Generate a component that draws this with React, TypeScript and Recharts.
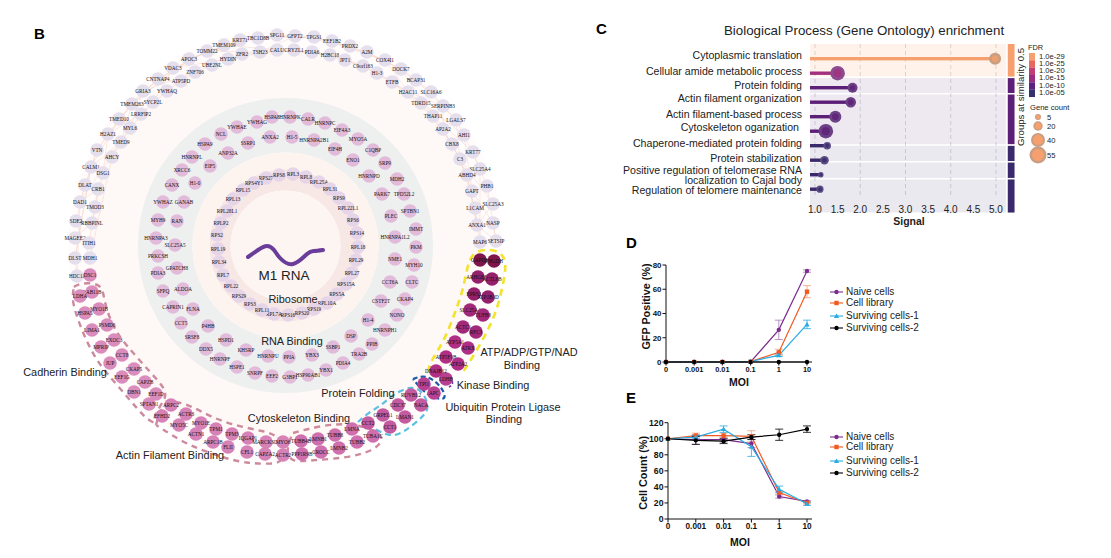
import {
  Bar,
  Cell,
  ComposedChart,
  ErrorBar,
  Line,
  LineChart,
  Pie,
  PieChart,
  ReferenceArea,
  CartesianGrid,
  Scatter,
  XAxis,
  YAxis,
} from "recharts";

const SANS = "'Liberation Sans', Arial, sans-serif";
const SERIF = "'Liberation Serif', 'Times New Roman', serif";

// ---- panel B: protein network, nodes as [name, x, y]
type NodeRow = [string, number, number];

const outerNodes: NodeRow[] = [
  ["KRT71", 240, 40], ["TBC1D8B", 258, 38], ["SPG11", 277, 35], ["TMEM109", 224, 45], ["ZFR2", 242, 54],
  ["TSH23", 260, 52], ["CALU", 277, 50], ["TOMM22", 207, 51], ["HYDIN", 228, 59], ["APOC3", 189, 59],
  ["UBE2NL", 212, 65], ["VDAC3", 173, 68], ["ZNF706", 195, 72], ["CNTNAP4", 158, 79], ["ATP5PD", 181, 81],
  ["GRIA3", 143, 91], ["YWHAQ", 167, 91], ["TMEM263", 132, 104], ["SYCP2L", 153, 102], ["TMED10", 119, 119],
  ["LRRFIP2", 141, 114], ["MYL6", 130, 128], ["H2AZ1", 108, 134], ["TMED9", 121, 142], ["VTN", 97, 150],
  ["AHCY", 112, 157], ["CALM1", 91, 167], ["DSG1", 103, 173], ["DLAT", 85, 185], ["CRB1", 98, 189],
  ["DAD1", 80, 202], ["TMOD3", 95, 207], ["SDE2", 76, 221], ["RBBPINL", 92, 223], ["MAGEE2", 75, 238],
  ["ITIH1", 89, 243], ["DLST", 75, 258], ["MDH1", 90, 258], ["HDC11", 77, 276], ["GFPT2", 295, 36],
  ["CRYZL1", 294, 50], ["TPGS1", 314, 37], ["PDIA6", 312, 52], ["EEF1B2", 332, 41], ["H2BC18", 330, 55],
  ["PRDX2", 350, 46], ["JPT1", 345, 60], ["A2M", 367, 52], ["C9orf163", 363, 66], ["COX4I1", 385, 60],
  ["H1-3", 377, 73], ["DOCK7", 401, 69], ["ETFB", 392, 82], ["BCAP31", 416, 80], ["H2AC11", 408, 92],
  ["SLC16A6", 431, 92], ["TDRD15", 421, 103], ["SERPINB3", 443, 106], ["THAP11", 433, 116], ["LGALS7", 456, 120],
  ["AP2A2", 443, 129], ["AHI1", 464, 135], ["CBX8", 452, 144], ["KRT77", 473, 152], ["C3", 460, 159],
  ["SLC25A4", 480, 169], ["ABHD4", 467, 175], ["PHB1", 487, 186], ["GAPT", 472, 191], ["L1CAM", 475, 208],
  ["SLC25A3", 493, 204], ["ANXA1", 477, 225], ["NASP", 493, 223], ["MAP6", 480, 242], ["SETSIP", 496, 241],
];

const rnaBindingNodes: NodeRow[] = [
  ["HSPA8", 272, 117], ["HNRNPK", 290, 117], ["YWHAG", 257, 122], ["YWHAE", 237, 127], ["NCL", 221, 134],
  ["SSRP1", 248, 143], ["ANXA2", 270, 137], ["H1-5", 292, 137], ["HSPA9", 205, 144], ["ANP32A", 228, 153],
  ["HNRNPL", 192, 157], ["EIF5", 210, 166], ["XRCC6", 182, 170], ["H1-0", 195, 183], ["CANX", 172, 185],
  ["YWHAZ", 163, 202], ["GANAB", 184, 202], ["MYH9", 158, 220], ["RAN", 177, 221], ["HNRNPA3", 156, 238],
  ["SLC25A5", 175, 245], ["PRKCSH", 158, 256], ["GPATCH8", 177, 268], ["PDIA3", 158, 273], ["SFPQ", 163, 291],
  ["ALDOA", 183, 289], ["CAPRIN1", 173, 307], ["FLNA", 193, 309], ["CCT5", 181, 323], ["P4HB", 208, 326],
  ["SRSF8", 192, 337], ["HSPD1", 226, 340], ["DDX5", 206, 349], ["KHSRP", 246, 350], ["HNRNPF", 220, 359],
  ["HNRNPU", 268, 356], ["PPIA", 289, 357], ["HSPE1", 237, 367], ["SNRPF", 255, 373], ["EEF2", 272, 376],
  ["G3BP1", 290, 377], ["HSP90AB1", 308, 375], ["YBX1", 326, 370], ["YBX3", 312, 355], ["PDIA4", 343, 363],
  ["SSBP1", 333, 347], ["TRA2B", 359, 354], ["DSP", 351, 336], ["PPIB", 372, 344], ["HNRNPH1", 385, 330],
  ["H1-4", 368, 320], ["NONO", 397, 315], ["CSTF2T", 381, 301], ["CKAP4", 405, 299], ["CCT6A", 390, 282],
  ["CLTC", 412, 282], ["NME1", 395, 259], ["MYH10", 414, 265], ["PKM", 416, 247], ["HNRNPA1L2", 395, 237],
  ["IMMT", 416, 229], ["PLEC", 391, 216], ["SPTBN1", 410, 211], ["PARK7", 382, 194], ["TPD52L2", 404, 194],
  ["MDH2", 397, 179], ["HNRNPD", 369, 176], ["SRP9", 385, 163], ["ENO1", 353, 160], ["C1QBP", 373, 150],
  ["EIF4H", 335, 149], ["MYO5A", 358, 139], ["HNRNPA2B1", 314, 140], ["EIF4A3", 342, 130], ["HNRNPC", 325, 123],
  ["CALR", 308, 119],
];

const ribosomeNodes: NodeRow[] = [
  ["RPS27", 266, 178], ["RPS8", 279, 175], ["RPL3", 293, 174], ["RPL8", 306, 177], ["RPL25A", 319, 182],
  ["RPL31", 330, 189], ["RPS9", 339, 198], ["RPL22L1", 348, 208], ["RPS6", 353, 220], ["RPS14", 357, 233],
  ["RPL18", 358, 247], ["RPL29", 356, 260], ["RPL27", 352, 273], ["RPS15A", 346, 284], ["RPS5A", 337, 294],
  ["RPL10A", 327, 303], ["RPS19", 314, 309], ["RPS20", 302, 313], ["RPS16", 288, 315], ["RPL7A", 274, 314],
  ["RPL11", 262, 310], ["RPS3", 250, 304], ["RPS29", 239, 296], ["RPL22", 231, 286], ["RPL7", 223, 275],
  ["RPL34", 219, 262], ["RPL19", 218, 249], ["RPS2", 217, 235], ["RPLP2", 221, 223], ["RPL28L1", 227, 211],
  ["RPL13", 233, 199], ["RPL15", 243, 190], ["RPS4Y1", 254, 183],
];

const cadherinNodes: NodeRow[] = [
  ["DSC1", 90, 275], ["RAB11B", 92, 292], ["LDHA", 80, 296], ["MYO1B", 99, 309], ["HSPA5", 85, 313],
  ["PSMD6", 107, 325], ["LIMA1", 92, 330], ["EXOC3", 114, 340], ["MPRIP", 101, 347], ["CCT8", 122, 355],
  ["JUP", 110, 363], ["CKAP5", 134, 369], ["EEF1G", 122, 377], ["CAPZB", 145, 382], ["DBN1", 134, 392],
  ["EEF1D", 156, 394], ["SPTAN1", 149, 404],
];

const actinNodes: NodeRow[] = [
  ["ARPC2", 171, 405], ["EFHD2", 162, 416], ["ACTR3", 186, 414], ["MYO5C", 179, 425], ["MYO1E", 201, 423],
  ["ACTN1", 196, 434], ["TPM1", 216, 429], ["ARPC1B", 213, 442], ["TPM3", 232, 434], ["FLII", 228, 447],
  ["IQGAP1", 248, 438], ["CFL1", 247, 452], ["MARCKSL1", 266, 442], ["CAPZA2", 265, 454], ["MYO6", 283, 442],
  ["ACTR2", 283, 455],
];

const cytoskeletonNodes: NodeRow[] = [
  ["TUBB4B", 301, 441], ["PPP1R9B", 302, 454], ["LMNB1", 318, 439], ["CROCC", 321, 452], ["TUBB8", 335, 435],
  ["LMNB2", 339, 448], ["LMNA", 352, 429], ["TUBB2", 357, 442], ["TUBA1C", 373, 436],
];

const foldingNodes: NodeRow[] = [
  ["CCT2", 368, 423], ["CCT1", 390, 427], ["GRPEL1", 383, 415], ["LMAN1", 405, 417], ["CDC37", 398, 405],
  ["NACA", 421, 405], ["RUVBL2", 411, 395],
];

const kinaseNodes: NodeRow[] = [["TPI1", 424, 384], ["APC", 434, 393], ["LDHB", 446, 379]];

const atpLowNodes: NodeRow[] = [
  ["DNAJB12", 436, 371], ["ATP5F1B", 446, 357], ["ATP2A2", 458, 364], ["ATP5A1", 455, 342], ["ATRX", 468, 348],
];

const atpMidNodes: NodeRow[] = [
  ["ACTC1", 463, 327], ["RFC3", 476, 332], ["SLC25A4", 470, 310], ["TUFB8", 483, 315],
];

const atpHighNodes: NodeRow[] = [
  ["EPRS1", 474, 294], ["ATP1B1D", 488, 297], ["ARHGEF1", 478, 277], ["ACTL6B", 492, 279],
];

const atpTopNodes: NodeRow[] = [["GAPDH", 480, 260], ["PHGDH", 494, 261]];

const webPath = [
  "DLST", "CALM1", "TMED9", "TMEM263", "CNTNAP4", "TOMM22", "TSH23", "GFPT2", "EEF1B2", "COX4I1", "BCAP31",
  "LGALS7", "AHI1", "GAPT", "NASP", "SETSIP", "PHB1", "KRT77", "THAP11", "DOCK7", "A2M", "TPGS1", "SPG11",
  "KRT71", "APOC3", "GRIA3", "TMED10", "VTN", "DLAT", "SDE2", "MDH1", "AHCY", "MYL6", "SYCP2L", "VDAC3", "HYDIN",
  "CALU", "PDIA6", "JPT1", "H1-3", "H2AC11", "SERPINB3", "AP2A2", "C3", "SLC25A3", "ANXA1", "ABHD4", "CBX8",
  "TDRD15", "ETFB", "C9orf163", "H2BC18", "CRYZL1", "ZFR2", "UBE2NL", "ZNF706", "ATP5PD", "YWHAQ", "LRRFIP2",
  "H2AZ1", "DSG1", "TMOD3", "ITIH1", "MAGEE2", "RBBPINL", "CRB1", "DAD1", "VTN", "TMEM263", "APOC3", "KRT71",
  "GFPT2", "PRDX2", "DOCK7", "SLC16A6", "LGALS7", "C3", "L1CAM", "MAP6", "SLC25A4", "AHI1", "H2AC11", "COX4I1",
  "TPGS1", "TBC1D8B", "TOMM22", "CNTNAP4", "TMED10", "CALM1", "DLST", "HDC11", "DAD1", "MYL6", "GRIA3", "ZNF706",
  "TMEM109", "CALU", "H2BC18", "C9orf163", "ETFB", "THAP11", "CBX8", "ABHD4", "ANXA1", "SETSIP",
];

const rnaWave = [
  { x: 248, y: 257 }, { x: 258, y: 250 }, { x: 267, y: 246 }, { x: 274, y: 250 }, { x: 280, y: 258 },
  { x: 293, y: 264 }, { x: 307, y: 254 }, { x: 314, y: 251 }, { x: 323, y: 250 },
];

const cadherinOutline = [
  [74, 287], [80, 283], [102, 283], [104, 300], [110, 320], [120, 338], [135, 355], [150, 372], [163, 386], [168, 397],
  [152, 416], [157, 425], [145, 418], [130, 400], [110, 377], [92, 355], [75, 313], [72, 297], [74, 287],
].map(([x, y]) => ({ x, y }));

const actinOutline = [
  [156, 425], [163, 400], [187, 403], [210, 417], [237, 426], [263, 431], [281, 436], [287, 463], [265, 464],
  [247, 463], [227, 459], [190, 446], [170, 434], [156, 425],
].map(([x, y]) => ({ x, y }));

const cytoskeletonOutline = [
  [293, 433], [323, 425], [353, 423], [380, 432], [383, 441], [373, 451], [347, 458], [313, 460], [290, 463],
  [286, 448], [293, 433],
].map(([x, y]) => ({ x, y }));

const atpOutline = [
  [428, 372], [430, 362], [445, 340], [457, 307], [463, 290], [467, 268], [472, 253], [485, 249], [500, 251],
  [507, 262], [503, 285], [497, 310], [488, 330], [476, 352], [463, 372],
].map(([x, y]) => ({ x, y }));

const ligaseOutline = [
  [358, 422], [368, 413], [382, 405], [392, 395], [410, 386], [422, 390], [430, 407], [423, 417], [403, 433],
  [390, 437], [373, 428],
].map(([x, y]) => ({ x, y }));

const kinaseOutline = [
  [413, 379], [425, 375], [437, 382], [445, 393], [445, 400], [433, 398], [422, 390], [413, 379],
].map(([x, y]) => ({ x, y }));

const kinaseArc = [[440, 373], [450, 376], [454, 384], [449, 387]].map(([x, y]) => ({ x, y }));

const networkNotes: [string, number, number][] = [
  ["Cadherin Binding", 65, 376],
  ["Actin Filament Binding", 170, 459],
  ["Cytoskeleton Binding", 299, 422],
  ["Protein Folding", 358, 397],
  ["ATP/ADP/GTP/NAD", 529, 356],
  ["Binding", 522, 369],
  ["Kinase Binding", 493, 389],
  ["Ubiquitin Protein Ligase", 503, 411],
  ["Binding", 504, 423],
  ["RNA Binding", 292, 345],
  ["Ribosome", 293, 303],
];

const discValue = [{ value: 1 }];

// ---- panel C: GO enrichment
const goTerms = [
  "Cytoplasmic translation",
  "Cellular amide metabolic process",
  "Protein folding",
  "Actin filament organization",
  "Actin filament-based process",
  "Cytoskeleton oganization",
  "Chaperone-mediated protein folding",
  "Protein stabilization",
  "Positive regulation of telomerase RNA|localization to Cajal body",
  "Regulation of telomere maintenance",
];
const goSignal = [4.98, 1.5, 1.83, 1.79, 1.45, 1.24, 1.27, 1.21, 1.13, 1.11];
const goGeneCount = [25, 38, 17, 19, 25, 38, 9, 12, 4, 8];
const goColors = ["#f5a06e", "#a3307f", "#5c1f77", "#5c1f77", "#5c1f77", "#5c1f77", "#3a2a6b", "#3a2a6b", "#3a2a6b", "#3a2a6b"];
const goHalos = ["#c99e82", "#8d4a8e", "#6b4085", "#6b4085", "#6b4085", "#6b4085", "#5b4e84", "#5b4e84", "#5b4e84", "#5b4e84"];
const signalTicks = [1, 1.5, 2, 2.5, 3, 3.5, 4, 4.5, 5];
const fdrLabels = ["1.0e-29", "1.0e-25", "1.0e-20", "1.0e-15", "1.0e-10", "1.0e-05"];
const fdrColors = ["#f5a06e", "#e9675c", "#c13f74", "#9b2d80", "#5c2080", "#35306e"];
const geneLegend = [5, 20, 40, 55];
const similarityGroups = [
  { from: -0.48, to: 1.93, color: "#f5a06e" },
  { from: 2.02, to: 2.9, color: "#5c1f77" },
  { from: 2.99, to: 5.93, color: "#5c1f77" },
  { from: 6.03, to: 6.93, color: "#3a2a6b" },
  { from: 7.02, to: 7.93, color: "#3a2a6b" },
  { from: 8.02, to: 9.98, color: "#3a2a6b" },
];

// ---- panels D and E
const moiLabels = ["0", "0.001", "0.01", "0.1", "1", "10"];
const seriesNames = ["Naive cells", "Cell library", "Surviving cells-1", "Surviving cells-2"];
const seriesKeys = ["naive", "library", "s1", "s2"];
const seriesColors = ["#7b2d8e", "#f15a22", "#29abe2", "#000000"];
const seriesErrColors = ["#a878b8", "#f2a07c", "#29abe2", "#000000"];

const gfpNaive = [0, 0, 0, 0, 26.5, 75];
const gfpLibrary = [0, 0, 0, 0.3, 8, 58];
const gfpS1 = [0, 0, 0, 0.5, 5.5, 31];
const gfpS2 = [0, 0, 0, 0, 0, 0];
const gfpNaiveErr = [0, 0, 0, 0, 8, 1];
const gfpLibraryErr = [0, 0, 0, 0, 2.5, 5];
const gfpS1Err = [0, 0, 0, 0, 1, 3.5];
const gfpS2Err = [0, 0, 0, 0, 0, 0];

const countNaive = [100, 99, 99, 94, 28, 22];
const countLibrary = [100, 104, 104, 103, 33, 20];
const countS1 = [100, 102, 112, 90, 37, 19];
const countS2 = [100, 98, 97, 102, 105, 112];
const countNaiveErr = [0, 6, 3, 5, 2, 1];
const countLibraryErr = [0, 3, 3, 7, 2, 1];
const countS1Err = [0, 2, 4, 12, 4, 2];
const countS2Err = [0, 5, 3, 3, 7, 4];

const toPoints = (rows: NodeRow[]) => rows.map(([name, x, y]) => ({ name, x, y }));

const networkGroups: { rows: NodeRow[]; color: string }[] = [
  { rows: outerNodes, color: "#e4deed" },
  { rows: rnaBindingNodes, color: "#e1bbd9" },
  { rows: ribosomeNodes, color: "#e6d4e8" },
  { rows: cadherinNodes, color: "#da8cbc" },
  { rows: actinNodes, color: "#d782b7" },
  { rows: cytoskeletonNodes, color: "#d06fad" },
  { rows: foldingNodes, color: "#c45a9f" },
  { rows: kinaseNodes, color: "#b84092" },
  { rows: atpLowNodes, color: "#b02f84" },
  { rows: atpMidNodes, color: "#a2287a" },
  { rows: atpHighNodes, color: "#94206b" },
  { rows: atpTopNodes, color: "#7e1649" },
];

const outlineGroups = [
  { points: cadherinOutline, color: "#cc8a9c", width: 2.4, dash: "6 5" },
  { points: actinOutline, color: "#cc8a9c", width: 2.4, dash: "6 5" },
  { points: cytoskeletonOutline, color: "#cc8a9c", width: 2.4, dash: "6 5" },
  { points: atpOutline, color: "#f3e32b", width: 2.6, dash: "7 5" },
  { points: ligaseOutline, color: "#5cc0e2", width: 2.2, dash: "6 4" },
  { points: kinaseOutline, color: "#1c5ba6", width: 2.2, dash: "5 3" },
  { points: kinaseArc, color: "#6a3fa0", width: 1.6, dash: "3 2" },
];

const allOuter = new Map(outerNodes.map(([name, x, y]) => [name, { x, y }]));
const webPoints = webPath.map((name) => allOuter.get(name)!);

const noteData = networkNotes.map(([text, x, y]) => ({ text, x, y }));

function NetworkNode({ cx, cy, payload, fill }: any) {
  return (
    <g>
      <circle cx={cx} cy={cy} r={6.8} fill={fill} />
      <text x={cx} y={cy + 1.7} textAnchor="middle" fontSize={5.2} fontFamily={SERIF} fill="#111">
        {payload.name}
      </text>
    </g>
  );
}

function NoteText({ cx, cy, payload }: any) {
  return (
    <text x={cx} y={cy} textAnchor="middle" fontSize={10.9} fontFamily={SANS} fill="#222">
      {payload.text}
    </text>
  );
}

function NetworkPanel() {
  return (
    <div style={{ position: "absolute", left: 0, top: 0, width: 600, height: 558 }}>
      <div style={{ position: "absolute", left: 0, top: 0 }}>
        <PieChart width={600} height={558} margin={{ top: 0, right: 0, bottom: 0, left: 0 }}>
          <Pie data={discValue} dataKey="value" cx={285.5} cy={245.5} innerRadius={196} outerRadius={217} fill="#fffcfb" stroke="none" isAnimationActive={false} />
          <Pie data={discValue} dataKey="value" cx={285.5} cy={245.5} innerRadius={147} outerRadius={197} fill="#fef8f6" stroke="none" isAnimationActive={false} />
          <Pie data={discValue} dataKey="value" cx={285.5} cy={245.5} innerRadius={93} outerRadius={147.5} fill="#eef0f0" stroke="none" isAnimationActive={false} />
          <Pie data={discValue} dataKey="value" cx={285.5} cy={245.5} innerRadius={76} outerRadius={93} fill="#fdf4f0" stroke="none" isAnimationActive={false} />
          <Pie data={discValue} dataKey="value" cx={285.5} cy={245.5} innerRadius={55} outerRadius={76} fill="#f7e7e5" stroke="none" isAnimationActive={false} />
          <Pie data={discValue} dataKey="value" cx={285.5} cy={245.5} innerRadius={0} outerRadius={55} fill="#fdf5f2" stroke="none" isAnimationActive={false} />
        </PieChart>
      </div>
      <div style={{ position: "absolute", left: 0, top: 0 }}>
        <ComposedChart width={600} height={558} margin={{ top: 0, right: 0, bottom: 0, left: 0 }}>
          <XAxis type="number" dataKey="x" domain={[0, 600]} hide />
          <YAxis type="number" dataKey="y" domain={[0, 558]} reversed hide />
          <Line data={webPoints} dataKey="y" type="linear" dot={false} stroke="#f4d2c7" strokeWidth={0.5} isAnimationActive={false} />
          {outlineGroups.map((g, i) => (
            <Line
              key={i}
              data={g.points}
              dataKey="y"
              type="basis"
              dot={false}
              stroke={g.color}
              strokeWidth={g.width}
              strokeDasharray={g.dash}
              isAnimationActive={false}
            />
          ))}
          {networkGroups.map((g, i) => (
            <Scatter key={i} data={toPoints(g.rows)} fill={g.color} shape={NetworkNode} isAnimationActive={false} />
          ))}
          <Line data={rnaWave} dataKey="y" type="natural" dot={false} stroke="#6a3d9a" strokeWidth={4} strokeLinecap="round" isAnimationActive={false} />
          <Scatter data={noteData} shape={NoteText} isAnimationActive={false} />
        </ComposedChart>
      </div>
      <div style={{ position: "absolute", left: 284, top: 268, width: 60, marginLeft: -30, textAlign: "center", font: `13.5px ${SANS}`, color: "#222" }}>
        M1 RNA
      </div>
    </div>
  );
}

const goRows = goTerms.map((term, i) => ({
  term,
  signal: goSignal[i],
  genes: goGeneCount[i],
  color: goColors[i],
  halo: goHalos[i],
}));

const dotRadius = (genes: number) => 1.1 * Math.sqrt(genes) + 0.5;

function Lollipop({ x, y, width, height, payload }: any) {
  const r = dotRadius(payload.genes);
  const cy = y + height / 2;
  return (
    <g>
      <rect x={x} y={y} width={width} height={height} fill={payload.color} />
      <circle cx={x + width} cy={cy} r={r} fill={payload.halo} />
      <circle cx={x + width} cy={cy} r={r * 0.55} fill={payload.color} opacity={0.8} />
    </g>
  );
}

const TERM_RIGHT = 212;
const termBaseline = [1, 1.8, 1.3, 0.1, 1.3, 0.5, 1.3, 2.1, 0.2, 5.7];

function TermTick({ y, index, payload }: any) {
  const lines = String(payload.value).split("|");
  const right = index === 5 ? TERM_RIGHT - 3 : TERM_RIGHT;
  return (
    <text x={right} y={y + termBaseline[index]} textAnchor="end" fontSize={10.6} fontFamily={SANS} fill="#222">
      {lines.map((line, i) => (
        <tspan key={i} x={right} dy={i === 0 ? 0 : 9.3}>
          {line}
        </tspan>
      ))}
    </text>
  );
}

function EnrichmentPanel() {
  return (
    <div style={{ position: "absolute", left: 590, top: 44, width: 430, height: 190 }}>
      <ComposedChart layout="vertical" width={430} height={190} data={goRows} margin={{ top: 0, right: 5, bottom: 0, left: 0 }}>
        <CartesianGrid horizontal={false} verticalValues={signalTicks} stroke="#c8c8c8" strokeDasharray="4 3" strokeWidth={0.7} />
        <XAxis
          type="number"
          domain={[0.89, 5.42]}
          ticks={signalTicks}
          tickFormatter={(v: number) => v.toFixed(1)}
          tick={{ fontSize: 10, fontFamily: SANS, fill: "#222" }}
          tickLine={false}
          axisLine={false}
          height={38}
          tickMargin={4}
          allowDataOverflow
        />
        <YAxis
          yAxisId="rows"
          type="category"
          dataKey="term"
          width={220}
          interval={0}
          tick={TermTick}
          tickLine={false}
          axisLine={false}
          padding={{ top: 7, bottom: 0 }}
          tickMargin={8}
        />
        <YAxis yAxisId="bands" type="number" domain={[-0.48, 10]} hide allowDataOverflow />
        {similarityGroups.map((g, i) => (
          <ReferenceArea key={`band-${i}`} yAxisId="bands" ifOverflow="visible" x1={0.89} x2={5.22} y1={g.from} y2={g.to} fill={g.color} fillOpacity={g.color === "#f5a06e" ? 0.14 : 0.1} stroke="none" />
        ))}
        {similarityGroups.map((g, i) => (
          <ReferenceArea key={`side-${i}`} yAxisId="bands" ifOverflow="visible" x1={5.26} x2={5.41} y1={g.from} y2={g.to} fill={g.color} fillOpacity={1} stroke="none" />
        ))}
        <Bar yAxisId="rows" dataKey="signal" barSize={3.4} shape={Lollipop} isAnimationActive={false}>
          {goRows.map((row) => (
            <Cell key={row.term} fill={row.color} />
          ))}
        </Bar>
      </ComposedChart>
    </div>
  );
}

function EnrichmentLegend() {
  const sizeY = [117, 126, 140, 155];
  return (
    <svg width={1111} height={558} style={{ position: "absolute", left: 0, top: 0, pointerEvents: "none" }} fontFamily={SANS} fill="#222">
      <text x={724} y={35} fontSize={13.3}>Biological Process (Gene Ontology) enrichment</text>
      <text x={596} y={34} fontSize={15} fontWeight="bold" fill="#000">C</text>
      <text x={34} y={39} fontSize={15} fontWeight="bold" fill="#000">B</text>
      <text x={626} y={248} fontSize={15} fontWeight="bold" fill="#000">D</text>
      <text x={626} y={403} fontSize={15} fontWeight="bold" fill="#000">E</text>
      <text x={909} y={225} fontSize={10.5} fontWeight="bold" textAnchor="middle">Signal</text>
      <text transform="translate(1024,97) rotate(-90)" fontSize={9.6} textAnchor="middle">Groups at similarity 0.5</text>
      <text x={1028} y={49.5} fontSize={7.4}>FDR</text>
      {fdrColors.map((c, i) => (
        <g key={c}>
          <rect x={1029} y={53 + i * 7.33} width={6} height={7.4} fill={c} />
          <text x={1039} y={58.5 + i * 7.33} fontSize={7.6}>{fdrLabels[i]}</text>
        </g>
      ))}
      <text x={1030} y={110} fontSize={7.6}>Gene count</text>
      {geneLegend.map((g, i) => (
        <g key={g}>
          <circle cx={1038} cy={sizeY[i]} r={[3, 4.7, 7, 8.5][i]} fill="#c99e82" />
          <circle cx={1038} cy={sizeY[i]} r={[2, 3.2, 5, 6][i]} fill="#f5a06e" />
          <text x={1047} y={sizeY[i] + 3} fontSize={7.6}>{g}</text>
        </g>
      ))}
    </svg>
  );
}

const buildRows = (values: number[][], errors: number[][]) =>
  moiLabels.map((moi, i) => {
    const row: Record<string, number | string> = { moi };
    seriesKeys.forEach((key, s) => {
      row[key] = values[s][i];
      row[`${key}Err`] = errors[s][i];
    });
    return row;
  });

function SeriesMark({ cx, cy, fill, kind }: any) {
  if (kind === 1) return <rect x={cx - 2.2} y={cy - 2.2} width={4.4} height={4.4} fill={fill} />;
  if (kind === 2) return <path d={`M${cx} ${cy - 2.6}L${cx + 2.6} ${cy + 2}L${cx - 2.6} ${cy + 2}Z`} fill={fill} />;
  return <circle cx={cx} cy={cy} r={2.2} fill={fill} />;
}

interface MoiChartProps {
  top: number;
  height: number;
  marginTop: number;
  axisWidth: number;
  data: Record<string, number | string>[];
  domain: [number, number];
  ticks: number[];
  yLabel: string;
  labelOffset: number;
  labelShift: number;
  tickSize: number;
  axisHeight: number;
}

function MoiChart({ top, height, marginTop, axisWidth, data, domain, ticks, yLabel, labelOffset, labelShift, tickSize, axisHeight }: MoiChartProps) {
  return (
    <div style={{ position: "absolute", left: 620, top, width: 200, height }}>
      <LineChart width={200} height={height} data={data} margin={{ top: marginTop, right: 8, bottom: 0, left: 0 }}>
        <XAxis
          dataKey="moi"
          padding={{ left: 0, right: 5 }}
          interval={0}
          height={axisHeight}
          tick={{ fontSize: tickSize, fontWeight: "bold", fontFamily: SANS, fill: "#111" }}
          tickSize={3.5}
          tickMargin={1}
          stroke="#111"
          label={{ value: "MOI", position: "insideBottom", offset: 6, fontSize: 10.5, fontWeight: "bold", fontFamily: SANS, fill: "#111" }}
        />
        <YAxis
          width={axisWidth}
          domain={domain}
          ticks={ticks}
          interval={0}
          tick={{ fontSize: tickSize + 0.5, fontWeight: "bold", fontFamily: SANS, fill: "#111" }}
          tickSize={3.5}
          tickMargin={1}
          stroke="#111"
          label={{ value: yLabel, angle: -90, position: "insideLeft", offset: labelOffset, dy: labelShift, fontSize: 10.8, fontWeight: "bold", fontFamily: SANS, fill: "#111", style: { textAnchor: "middle" } }}
        />
        {seriesKeys.map((key, s) => (
          <Line
            key={key}
            dataKey={key}
            stroke={seriesColors[s]}
            strokeWidth={1.2}
            type="linear"
            isAnimationActive={false}
            dot={(props: any) => <SeriesMark key={props.index} cx={props.cx} cy={props.cy} fill={seriesColors[s]} kind={s} />}
          >
            <ErrorBar dataKey={`${key}Err`} width={4} strokeWidth={0.8} stroke={seriesErrColors[s]} direction="y" isAnimationActive={false} />
          </Line>
        ))}
      </LineChart>
    </div>
  );
}

function MoiLegend({ rowY }: { rowY: number[] }) {
  return (
    <svg width={1111} height={558} style={{ position: "absolute", left: 0, top: 0, pointerEvents: "none" }} fontFamily={SANS}>
      {seriesNames.map((name, s) => (
        <g key={name}>
          <line x1={830} x2={843} y1={rowY[s]} y2={rowY[s]} stroke={seriesColors[s]} strokeWidth={1.1} />
          <SeriesMark cx={836.5} cy={rowY[s]} fill={seriesColors[s]} kind={s} />
          <text x={846} y={rowY[s] + 3.4} fontSize={10} fill="#222">{name}</text>
        </g>
      ))}
    </svg>
  );
}

const gfpRows = buildRows([gfpNaive, gfpLibrary, gfpS1, gfpS2], [gfpNaiveErr, gfpLibraryErr, gfpS1Err, gfpS2Err]);
const countRows = buildRows([countNaive, countLibrary, countS1, countS2], [countNaiveErr, countLibraryErr, countS1Err, countS2Err]);

export default function App() {
  return (
    <div style={{ position: "absolute", left: 0, top: 0, width: 1111, height: 558, overflow: "hidden", background: "#fff" }}>
      <NetworkPanel />
      <EnrichmentPanel />
      <EnrichmentLegend />
      <MoiChart top={250} height={142} marginTop={15} axisWidth={46} data={gfpRows} domain={[0, 80]} ticks={[0, 20, 40, 60, 80]} yLabel="GFP Positive (%)" labelOffset={26} labelShift={-7} tickSize={7.4} axisHeight={30} />
      <MoiChart top={410} height={142} marginTop={12.7} axisWidth={48} data={countRows} domain={[0, 120]} ticks={[0, 20, 40, 60, 80, 100, 120]} yLabel="Cell Count (%)" labelOffset={23} labelShift={2} tickSize={8.2} axisHeight={33} />
      <MoiLegend rowY={[292, 303, 316, 328]} />
      <MoiLegend rowY={[437, 447, 461, 473]} />
    </div>
  );
}
